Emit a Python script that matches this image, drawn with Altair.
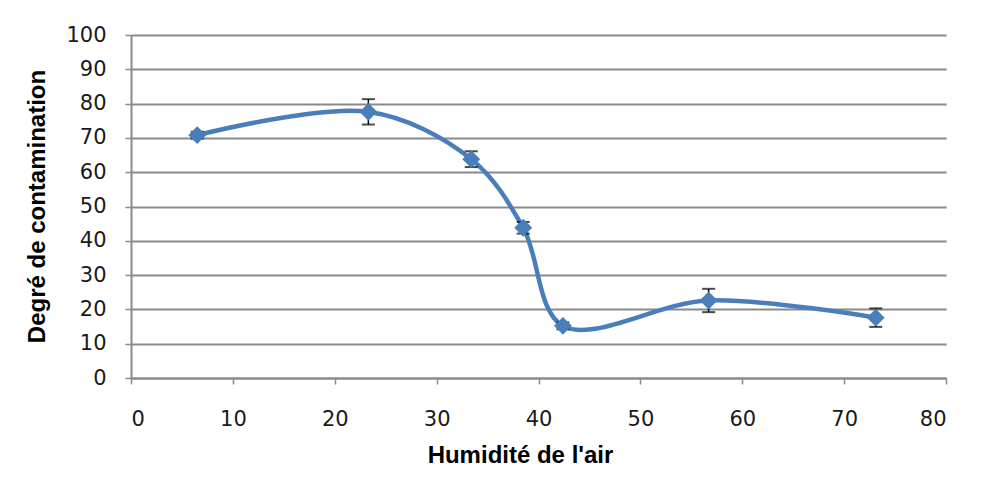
import altair as alt
import pandas as pd

humidite = [6.5, 23.3, 33.4, 38.5, 42.4, 56.7, 73.1]
contamination = [70.8, 77.6, 63.8, 43.8, 15.2, 22.6, 17.6]
erreur = [1.0, 3.7, 2.3, 1.7, 1.0, 3.4, 2.7]

df = pd.DataFrame({"h": humidite, "c": contamination, "e": erreur})
df["lo"] = df["c"] - df["e"]
df["hi"] = df["c"] + df["e"]

blue = "#4a7ebb"
xscale = alt.Scale(domain=[0, 80], nice=False)
yscale = alt.Scale(domain=[0, 100], nice=False)
xaxis = alt.Axis(title="Humidité de l'air", values=list(range(0, 81, 10)), grid=False,
                 titleX=389, titleY=84, titleAlign="center", titleBaseline="alphabetic",
                 labelPadding=24, labelOverlap=False)
yaxis = alt.Axis(title="Degré de contamination", values=list(range(0, 101, 10)),
                 titleX=-94, titleY=171, titleAngle=-90, titleAlign="center",
                 titleBaseline="middle", labelPadding=19, labelOverlap=False)

def X(f):
    return alt.X(f, scale=xscale, axis=xaxis)

def Y(f):
    return alt.Y(f, scale=yscale, axis=yaxis)

base = alt.Chart(df)
line = base.mark_line(interpolate="catmull-rom", color=blue, strokeWidth=4.5).encode(x=X("h:Q"), y=Y("c:Q"))
rules = base.mark_rule(color="black", strokeWidth=1.5).encode(x=X("h:Q"), y=Y("lo:Q"), y2="hi:Q")
cap_lo = base.mark_tick(color="black", orient="horizontal", size=13, thickness=2).encode(x=X("h:Q"), y=Y("lo:Q"))
cap_hi = base.mark_tick(color="black", orient="horizontal", size=13, thickness=2).encode(x=X("h:Q"), y=Y("hi:Q"))
points = base.mark_point(shape="diamond", filled=True, color=blue, size=320, opacity=1).encode(x=X("h:Q"), y=Y("c:Q"))

chart = alt.layer(line, rules, cap_lo, cap_hi, points).properties(
    width=815, height=343,
    autosize=alt.AutoSizeParams(type="none"),
    padding={"left": 123, "top": 27, "right": 30, "bottom": 100},
).configure_view(stroke=None).configure_axis(
    domainColor="#8a8a8a", domainWidth=2,
    gridColor="#8a8a8a", gridWidth=2,
    tickColor="#8a8a8a", tickWidth=1.5, tickSize=6,
    labelFont="DejaVu Sans", labelFontSize=21, labelColor="#1a1a1a",
    titleFont="Liberation Sans", titleFontSize=24, titleFontWeight="bold", titleColor="black",
)

chart.save("out.html", embed_options={"renderer": "svg", "actions": False})
